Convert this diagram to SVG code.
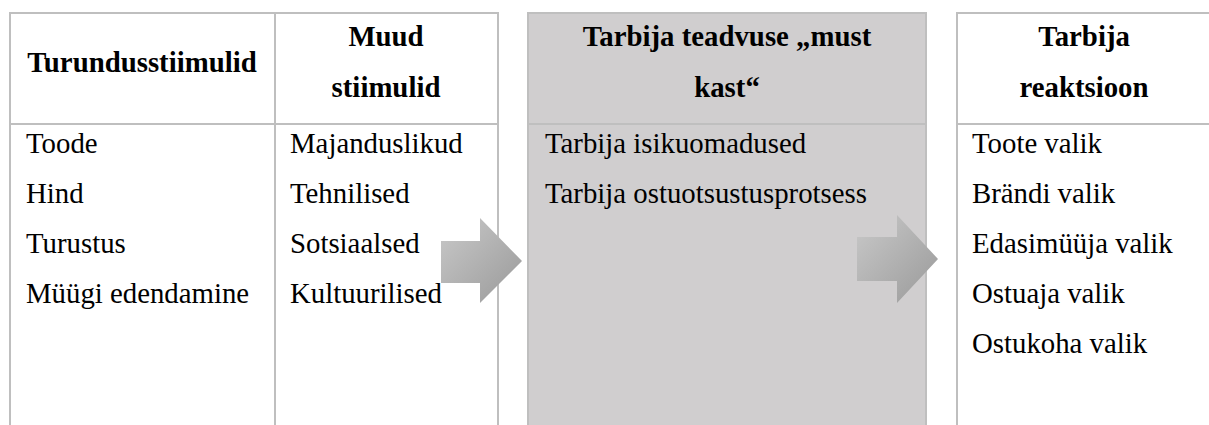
<svg xmlns="http://www.w3.org/2000/svg" width="1209" height="425" viewBox="0 0 1209 425">
<style>
.b{fill:none;stroke:#bfbfbf;stroke-width:2}
.t{font-family:"Liberation Serif","Times New Roman",serif;font-size:28.8px;fill:#000}
.h{font-weight:bold;text-anchor:middle}
</style>
<defs>
<linearGradient id="ag" x1="0" y1="0" x2="1" y2="1">
<stop offset="0" stop-color="#c9c9c9"/>
<stop offset="1" stop-color="#999999"/>
</linearGradient>
</defs>
<rect width="1209" height="425" fill="#fff"/>
<g id="stimuli">
<rect class="b" x="10" y="13" width="488" height="430"/>
<line class="b" x1="275" y1="13" x2="275" y2="425"/>
<line class="b" x1="10" y1="124" x2="498" y2="124"/>
<text class="t h" x="142" y="72">Turundusstiimulid</text>
<text class="t h" x="386" y="46">Muud</text>
<text class="t h" x="386" y="97">stiimulid</text>
<text class="t" x="26" y="153">Toode</text>
<text class="t" x="26" y="203">Hind</text>
<text class="t" x="26" y="253">Turustus</text>
<text class="t" x="26" y="303">Müügi edendamine</text>
<text class="t" x="290" y="153">Majanduslikud</text>
<text class="t" x="290" y="203">Tehnilised</text>
<text class="t" x="290" y="253">Sotsiaalsed</text>
<text class="t" x="290" y="303">Kultuurilised</text>
</g>
<g id="blackbox">
<rect x="528" y="13" width="398" height="430" fill="#d0cecf" stroke="#bfbfbf" stroke-width="2"/>
<line class="b" x1="528" y1="124" x2="926" y2="124"/>
<text class="t h" x="727" y="46">Tarbija teadvuse „must</text>
<text class="t h" x="727" y="97">kast“</text>
<text class="t" x="545" y="153">Tarbija isikuomadused</text>
<text class="t" x="545" y="203">Tarbija ostuotsustusprotsess</text>
</g>
<g id="reaction">
<rect class="b" x="957" y="13" width="260" height="430"/>
<line class="b" x1="957" y1="124" x2="1209" y2="124"/>
<text class="t h" x="1084" y="46">Tarbija</text>
<text class="t h" x="1084" y="97">reaktsioon</text>
<text class="t" x="972" y="153">Toote valik</text>
<text class="t" x="972" y="203">Brändi valik</text>
<text class="t" x="972" y="253">Edasimüüja valik</text>
<text class="t" x="972" y="303">Ostuaja valik</text>
<text class="t" x="972" y="353">Ostukoha valik</text>
</g>
<g id="connectors">
<polygon points="441,241 480,241 480,218 522,261 480,303 480,283 441,283" fill="url(#ag)"/>
<polygon points="857,237 897,237 897,215 938,259 897,303 897,281 857,281" fill="url(#ag)"/>
</g>
</svg>
